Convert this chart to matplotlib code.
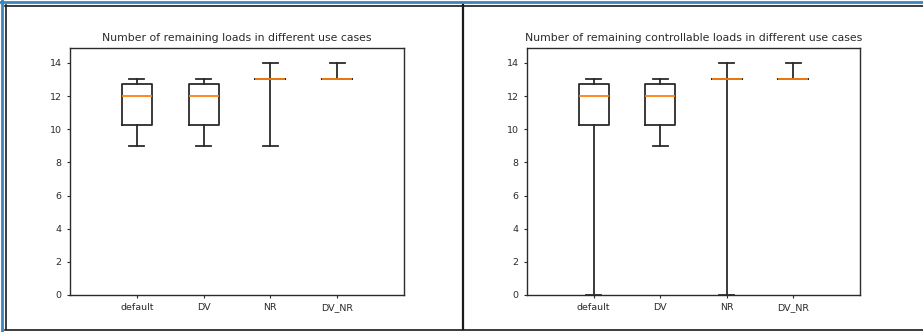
import matplotlib
matplotlib.use("Agg")
import matplotlib.pyplot as plt
from matplotlib.lines import Line2D

# Use cases on the x axis
cases = ["default", "DV", "NR", "DV_NR"]

# Box statistics per use case: lower whisker, Q1, median, Q3, upper whisker
all_low = [9, 9, 9, 13]
all_q1 = [10.25, 10.25, 13, 13]
all_med = [12, 12, 13, 13]
all_q3 = [12.75, 12.75, 13, 13]
all_high = [13, 13, 14, 14]

ctrl_low = [0, 9, 0, 13]
ctrl_q1 = [10.25, 10.25, 13, 13]
ctrl_med = [12, 12, 13, 13]
ctrl_q3 = [12.75, 12.75, 13, 13]
ctrl_high = [13, 13, 14, 14]

yticks = [0, 2, 4, 6, 8, 10, 12, 14]

titles = [
    "Number of remaining loads in different use cases",
    "Number of remaining controllable loads in different use cases",
]

W, H = 923, 332
fig = plt.figure(figsize=(W / 100, H / 100), dpi=100)
fig.patch.set_facecolor("white")

ink = "#2b2b2b"


def make_stats(low, q1, med, q3, high):
    return [
        dict(whislo=a, q1=b, med=c, q3=d, whishi=e, fliers=[], label=n)
        for a, b, c, d, e, n in zip(low, q1, med, q3, high, cases)
    ]


def draw(ax, stats, title):
    ax.bxp(
        stats,
        positions=range(1, len(cases) + 1),
        widths=0.45,
        showfliers=False,
        boxprops=dict(color=ink, linewidth=1.3),
        whiskerprops=dict(color=ink, linewidth=1.3),
        capprops=dict(color=ink, linewidth=1.3),
        medianprops=dict(color="#ff7f0e", linewidth=1.3),
    )
    ax.set_xlim(0, 5)
    ax.set_ylim(0, 14.9)
    ax.set_yticks(yticks)
    ax.set_xticks(range(1, len(cases) + 1))
    ax.set_xticklabels(cases)
    ax.tick_params(labelsize=6.8, colors=ink, length=2.5, width=0.8)
    for s in ax.spines.values():
        s.set_color(ink)
        s.set_linewidth(1.0)
    ax.set_title(title, fontsize=7.8, color=ink, pad=5)


def px_axes(x0, x1, top, bottom):
    return fig.add_axes([x0 / W, (H - bottom) / H, (x1 - x0) / W, (bottom - top) / H])


ax1 = px_axes(70, 404, 48, 295)
ax2 = px_axes(527, 860, 48, 295)
draw(ax1, make_stats(all_low, all_q1, all_med, all_q3, all_high), titles[0])
draw(ax2, make_stats(ctrl_low, ctrl_q1, ctrl_med, ctrl_q3, ctrl_high), titles[1])

# Frame around the two panels
def fline(xs, ys, color, lw):
    fig.add_artist(Line2D([x / W for x in xs], [(H - y) / H for y in ys],
                          color=color, linewidth=lw, transform=fig.transFigure))

blue = "#3a86c0"
fline([0, W], [1.5, 1.5], blue, 2.0)
fline([1.5, 1.5], [0, H], blue, 2.0)
fline([5, W], [5.5, 5.5], "#1a1a1a", 1.2)
fline([5.5, 5.5], [5, 329], "#1a1a1a", 1.2)
fline([5, W], [329.5, 329.5], "#1a1a1a", 1.2)
fline([462.5, 462.5], [5, 329], "#1a1a1a", 1.6)

fig.savefig("out.png", dpi=100, facecolor="white")
